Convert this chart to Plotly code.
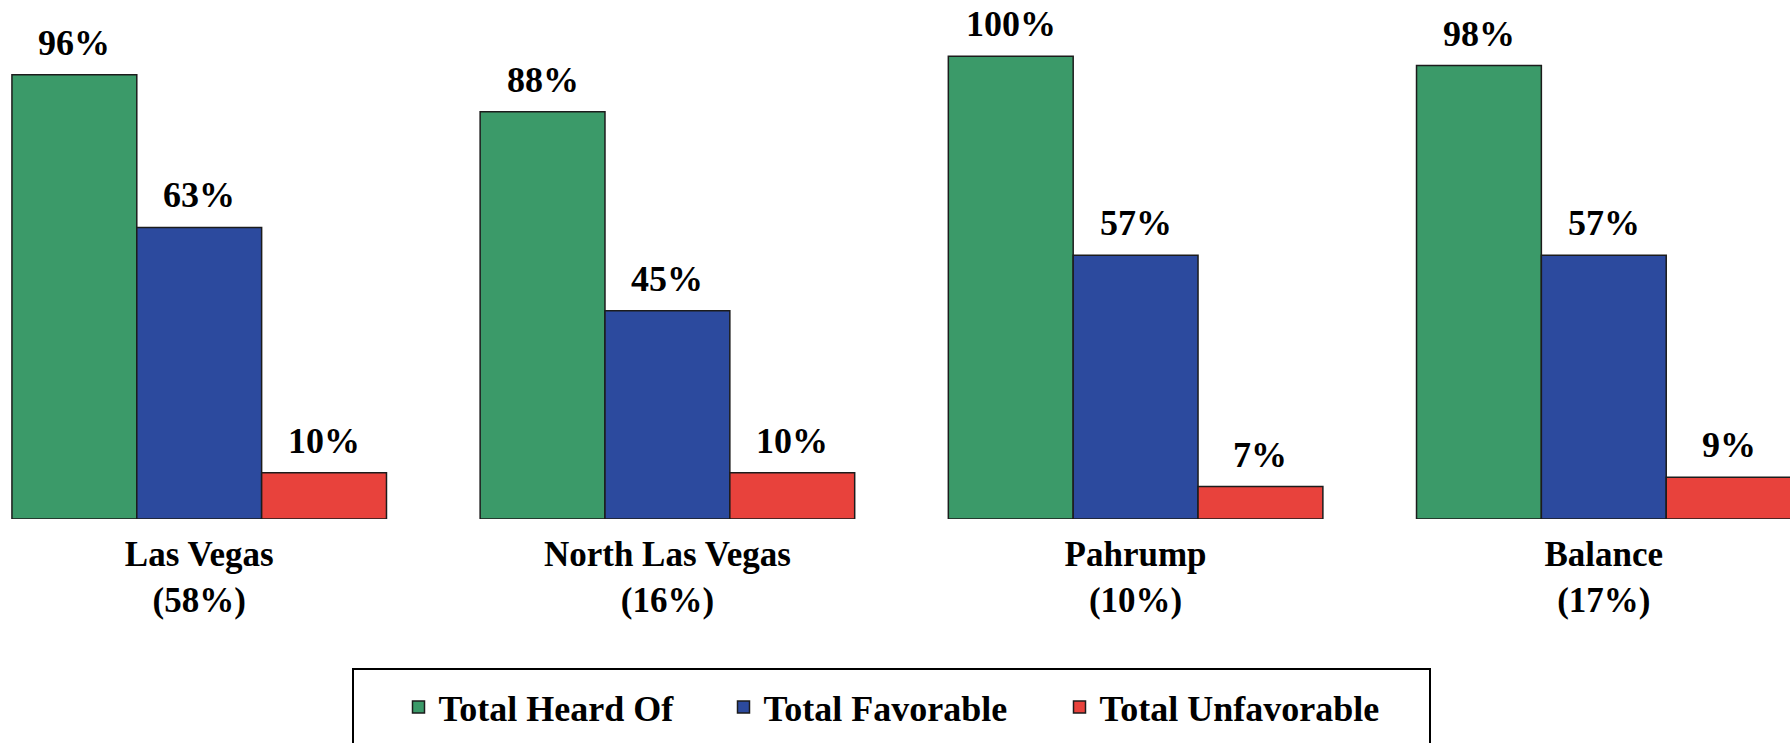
import plotly.graph_objects as go

# ---- data ----
categories = ["Las Vegas", "North Las Vegas", "Pahrump", "Balance"]
shares = ["58%", "16%", "10%", "17%"]
series_names = ["Total Heard Of", "Total Favorable", "Total Unfavorable"]
heard_of = [96, 88, 100, 98]
favorable = [63, 45, 57, 57]
unfavorable = [10, 10, 7, 9]

series_values = [heard_of, favorable, unfavorable]
bar_colors = ["#3b9a69", "#2c4a9e", "#e8423c"]
legend_widths = [280, 291, 300]

FONT = '"Liberation Serif", "Times New Roman", Times, serif'
W, H = 1790, 743
PLOT_T, PLOT_B = 10, 224
Y_MAX = 110
BARGAP = 0.2
X_RANGE = [-0.4255, 3.3977]

xpos = list(range(len(categories)))
tick_text = [f"<b>{c}</b><br><b>({s})</b>" for c, s in zip(categories, shares)]

fig = go.Figure()
for name, vals, col, lw in zip(series_names, series_values, bar_colors, legend_widths):
    fig.add_trace(go.Bar(
        x=xpos, y=vals, name=f"<b>{name}</b>",
        marker=dict(color=col, line=dict(color="#1c1c1c", width=1.5)),
        legendwidth=lw,
        hoverinfo="skip",
    ))

# value labels above bars
n = len(series_names)
bw = (1 - BARGAP) / n
annotations = []
for k, vals in enumerate(series_values):
    for i, v in enumerate(vals):
        annotations.append(dict(
            x=xpos[i] + (k - (n - 1) / 2) * bw, y=v, xref="x", yref="y",
            text=f"<b>{v}%</b>", showarrow=False, yanchor="middle", yshift=32,
            font=dict(size=36, color="black", family=FONT),
        ))

plot_h = H - PLOT_T - PLOT_B
def py(px):
    return (H - PLOT_B - px) / plot_h

fig.update_layout(
    width=W, height=H,
    margin=dict(l=0, r=0, t=PLOT_T, b=PLOT_B, autoexpand=False),
    paper_bgcolor="white", plot_bgcolor="white",
    font=dict(family=FONT, size=35, color="black"),
    barmode="group", bargap=BARGAP, bargroupgap=0,
    xaxis=dict(range=X_RANGE, tickvals=xpos, ticktext=tick_text, showgrid=False,
               zeroline=False, showline=False, ticks="", ticklabelstandoff=11,
               tickfont=dict(size=35, family=FONT)),
    yaxis=dict(range=[0, Y_MAX], visible=False),
    showlegend=True,
    legend=dict(orientation="h", x=398.5 / W, xanchor="left", y=py(677), yanchor="top",
                borderwidth=0, font=dict(size=36, family=FONT), bgcolor="rgba(0,0,0,0)",
                itemclick=False, itemdoubleclick=False),
    annotations=annotations,
    shapes=[dict(type="rect", xref="paper", yref="paper",
                 x0=353 / W, x1=1430 / W, y0=py(669), y1=py(770),
                 line=dict(color="black", width=2), fillcolor="rgba(0,0,0,0)")],
)

fig.write_html("out.html", config={"displayModeBar": False},
               post_script="document.body.style.margin='0';")
